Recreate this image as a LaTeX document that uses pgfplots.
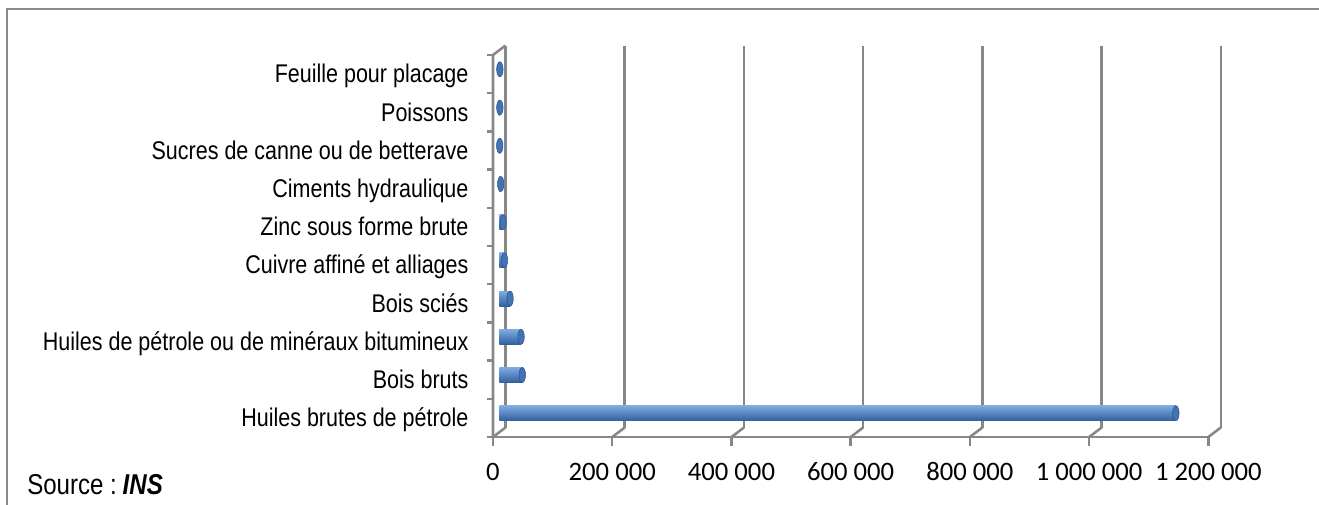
\documentclass[border=0pt]{standalone}
\usepackage{fontspec}
\setmainfont{Liberation Sans}[FakeStretch=0.84]
\newfontfamily\calibri{Carlito}
\usepackage{pgfplots}
\pgfplotsset{compat=1.18}
\definecolor{gridc}{HTML}{878787}
\definecolor{framec}{HTML}{8A8A8A}
\definecolor{barT}{HTML}{80ABE2}
\definecolor{barM}{HTML}{5888CB}
\definecolor{barB}{HTML}{30609C}
\definecolor{capc}{HTML}{4173B6}
\definecolor{capd}{HTML}{2A5288}
\newcommand\cylbar[2]{\addplot[xbar, bar shift=0pt, bar width=11.25pt, draw=none, top color=barT, middle color=barM, bottom color=barB] coordinates {(#1,#2)};}
\begin{document}
\begin{tikzpicture}
\useasboundingbox (0,0) rectangle (989.25pt,378pt);
\draw[framec, line width=1.5pt] (4.875pt,-2pt) -- (4.875pt,370.875pt) -- (992pt,370.875pt);
\node[anchor=base west, inner sep=0pt, font=\fontsize{21.5}{24}\selectfont] at (20.25pt,7.5pt) {Source :\hspace{0.2em}\textbf{\textit{INS}}};
\begin{axis}[
  at={(374.44pt,53.81pt)}, anchor=south west,
  scale only axis, width=536.5pt, height=286.5pt,
  xmin=0, xmax=1200000, ymin=-0.5, ymax=9.5,
  axis line style={draw=none}, tick style={draw=none},
  scaled x ticks=false,
  xtick={0,200000,400000,600000,800000,1000000,1200000},
  xticklabels={0,200 000,400 000,600 000,800 000,1 000 000,1 200 000},
  xticklabel style={anchor=center, inner sep=0pt, xshift=-4.69pt, yshift=-29.6pt, font=\calibri\fontsize{20}{22}\selectfont},
  ytick={0,...,9},
  yticklabels={Huiles brutes de pétrole, Bois bruts, Huiles de pétrole ou de minéraux bitumineux, Bois sciés, Cuivre affiné et alliages\ , Zinc sous forme brute, Ciments hydraulique, Sucres de canne ou de betterave\ , Poissons, Feuille pour placage},
  yticklabel style={anchor=base east, inner sep=0pt, xshift=-22.9pt, yshift=-10.1pt, font=\fontsize{19.2}{22}\selectfont},
  clip=false,
]
% back wall grid, floor diagonals, front ticks
\pgfplotsinvokeforeach{0,200000,400000,600000,800000,1000000,1200000}{
  \draw[gridc, line width=1.9pt] ([shift={(4.69pt,3.56pt)}]axis cs:#1,-0.5) -- ([shift={(4.69pt,3.56pt)}]axis cs:#1,9.5);
  \draw[gridc, line width=1.9pt] ([shift={(-4.69pt,-3.56pt)}]axis cs:#1,-0.5) -- ([shift={(4.69pt,3.56pt)}]axis cs:#1,-0.5);
  \draw[gridc, line width=1.9pt] ([shift={(-4.69pt,-3.56pt)}]axis cs:#1,-0.5) -- ++(0pt,-6.75pt);
}
% front axes
\draw[gridc, line width=1.9pt] ([shift={(-4.69pt,-3.56pt)}]axis cs:0,-0.5) -- ([shift={(-4.69pt,-3.56pt)}]axis cs:1200000,-0.5);
\draw[gridc, line width=1.9pt] ([shift={(-4.69pt,-3.56pt)}]axis cs:0,-0.5) -- ([shift={(-4.69pt,-3.56pt)}]axis cs:0,9.5) -- ([shift={(4.69pt,3.56pt)}]axis cs:0,9.5);
\pgfplotsinvokeforeach{-0.5,0.5,1.5,2.5,3.5,4.5,5.5,6.5,7.5,8.5,9.5}{
  \draw[gridc, line width=1.9pt] ([shift={(-4.69pt,-3.56pt)}]axis cs:0,#1) -- ++(-4.5pt,0pt);
}
% bars
\cylbar{1135000}{0}
\cylbar{38600}{1}
\cylbar{36600}{2}
\cylbar{18100}{3}
\cylbar{8700}{4}
\cylbar{6400}{5}
\cylbar{2500}{6}
\cylbar{800}{7}
\cylbar{1000}{8}
\cylbar{1000}{9}
% right caps
\addplot[only marks, mark=*, mark size=5.625pt, mark options={xscale=0.43, draw=capd, line width=0.4pt, fill=capc}] coordinates {
(1135000,0) (38600,1) (36600,2) (18100,3) (8700,4) (6400,5) (2500,6) (800,7) (1000,8) (1000,9)};
\end{axis}
\end{tikzpicture}
\end{document}
